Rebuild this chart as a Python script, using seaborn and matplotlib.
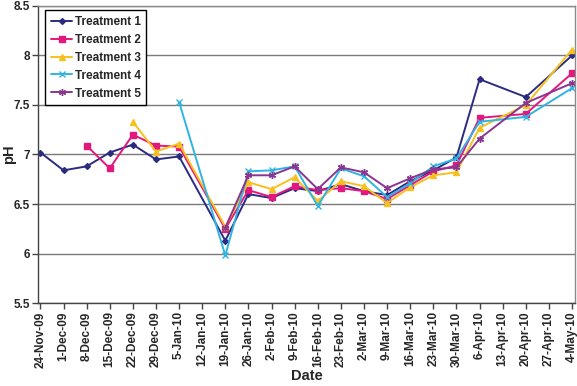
import pandas as pd
import matplotlib
matplotlib.use("Agg")
import matplotlib.pyplot as plt
import seaborn as sns

# sampling dates (12-Jan, 13-Apr and 27-Apr were not sampled)
sample_dates = ["24-Nov-09", "1-Dec-09", "8-Dec-09", "15-Dec-09", "22-Dec-09", "29-Dec-09",
                "5-Jan-10", "19-Jan-10", "26-Jan-10", "2-Feb-10", "9-Feb-10", "16-Feb-10",
                "23-Feb-10", "2-Mar-10", "9-Mar-10", "16-Mar-10", "23-Mar-10", "30-Mar-10",
                "6-Apr-10", "20-Apr-10", "4-May-10"]

treatment_1 = [7.02, 6.84, 6.88, 7.02, 7.10, 6.95, 6.98, 6.13, 6.60, 6.56, 6.66, 6.63,
               6.70, 6.63, 6.59, 6.73, 6.84, 6.97, 7.76, 7.58, 8.00]
treatment_2 = [None, None, 7.09, 6.86, 7.20, 7.09, 7.08, 6.25, 6.64, 6.57, 6.68, 6.64,
               6.66, 6.63, 6.55, 6.69, 6.83, 6.89, 7.37, 7.41, 7.82]
treatment_3 = [None, None, None, None, 7.33, 7.03, 7.11, 6.27, 6.72, 6.65, 6.77, 6.53,
               6.73, 6.68, 6.51, 6.67, 6.79, 6.82, 7.27, 7.50, 8.06]
treatment_4 = [None, None, None, None, None, None, 7.53, 5.98, 6.83, 6.84, 6.88, 6.48,
               6.86, 6.78, 6.57, 6.71, 6.88, 6.96, 7.33, 7.38, 7.67]
treatment_5 = [None, None, None, None, None, None, None, 6.26, 6.79, 6.79, 6.88, 6.65,
               6.87, 6.82, 6.66, 6.76, 6.85, 6.87, 7.16, 7.52, 7.72]

tick_labels = ["24-Nov-09", "1-Dec-09", "8-Dec-09", "15-Dec-09", "22-Dec-09", "29-Dec-09",
               "5-Jan-10", "12-Jan-10", "19-Jan-10", "26-Jan-10", "2-Feb-10", "9-Feb-10",
               "16-Feb-10", "23-Feb-10", "2-Mar-10", "9-Mar-10", "16-Mar-10", "23-Mar-10",
               "30-Mar-10", "6-Apr-10", "13-Apr-10", "20-Apr-10", "27-Apr-10", "4-May-10"]
y_ticks = [5.5, 6, 6.5, 7, 7.5, 8, 8.5]

series = {
    "Treatment 1": treatment_1,
    "Treatment 2": treatment_2,
    "Treatment 3": treatment_3,
    "Treatment 4": treatment_4,
    "Treatment 5": treatment_5,
}
colors = {
    "Treatment 1": "#2B2C80",
    "Treatment 2": "#E2187F",
    "Treatment 3": "#F6C01E",
    "Treatment 4": "#2FB5E2",
    "Treatment 5": "#8A3590",
}
markers = {
    "Treatment 1": "D",
    "Treatment 2": "s",
    "Treatment 3": "^",
    "Treatment 4": "x",
    "Treatment 5": (6, 2, 0),
}
sizes = {"Treatment 1": 3.0, "Treatment 2": 4.2, "Treatment 3": 4.5,
         "Treatment 4": 4.5, "Treatment 5": 5.0}

rows = []
for name, vals in series.items():
    for d, v in zip(sample_dates, vals):
        if v is not None:
            rows.append({"date": d, "pH": v, "treatment": name})
df = pd.DataFrame(rows)
df["date"] = pd.to_datetime(df["date"], format="%d-%b-%y")

sns.set_style("white")
plt.rcParams["font.family"] = ["Liberation Sans", "DejaVu Sans"]
plt.rcParams["font.weight"] = "bold"

fig = plt.figure(figsize=(5.77, 3.86), dpi=100)
ax = fig.add_axes([0.066, 0.215, 0.9305, 0.7695])

# one call per treatment, since filled and line markers can't be mixed in one style map
for name in series:
    sub = df[df["treatment"] == name]
    sns.lineplot(data=sub, x="date", y="pH", color=colors[name], marker=markers[name],
                 markersize=sizes[name], markeredgecolor=colors[name],
                 markerfacecolor=colors[name], markeredgewidth=1.0,
                 linewidth=1.4, ax=ax, label=name)

tick_dates = pd.to_datetime(tick_labels, format="%d-%b-%y")
ax.set_xticks(tick_dates)
ax.set_xticklabels(tick_labels, rotation=90, fontsize=8.5, fontweight="bold")
ax.set_xlim(tick_dates[0] - pd.Timedelta(days=0.7), tick_dates[-1] + pd.Timedelta(days=0.9))

ax.set_ylim(5.5, 8.5)
ax.set_yticks(y_ticks)
ax.set_yticklabels(["%g" % t for t in y_ticks], fontsize=8.5, fontweight="bold")

ax.grid(axis="y", color="#7a7a7a", linewidth=1.0)
ax.set_axisbelow(True)
ax.tick_params(axis="both", which="major", direction="out", length=4, width=1,
               color="#444444", pad=2, bottom=True, left=True)
for side in ["left", "bottom"]:
    ax.spines[side].set_color("#444444")
    ax.spines[side].set_linewidth(1.0)
for side in ["top", "right"]:
    ax.spines[side].set_color("#8a8a8a")
    ax.spines[side].set_linewidth(1.0)

ax.set_xlabel("Date", fontsize=10.5, fontweight="bold", labelpad=1)
ax.set_ylabel("pH", fontsize=10.5, fontweight="bold")
ax.yaxis.set_label_coords(-0.041, 0.5)

handles, labels = ax.get_legend_handles_labels()
leg = ax.legend(handles, labels, loc="upper left",
                bbox_to_anchor=(45 / 577, 1 - 10 / 386), bbox_transform=fig.transFigure,
                borderaxespad=0, handlelength=1.8, handletextpad=0.2,
                labelspacing=0.5, borderpad=0.5, fancybox=False, framealpha=1,
                edgecolor="black", prop={"weight": "bold", "size": 8.5})
leg.get_frame().set_linewidth(1.0)

fig.savefig("out.png", dpi=100)
